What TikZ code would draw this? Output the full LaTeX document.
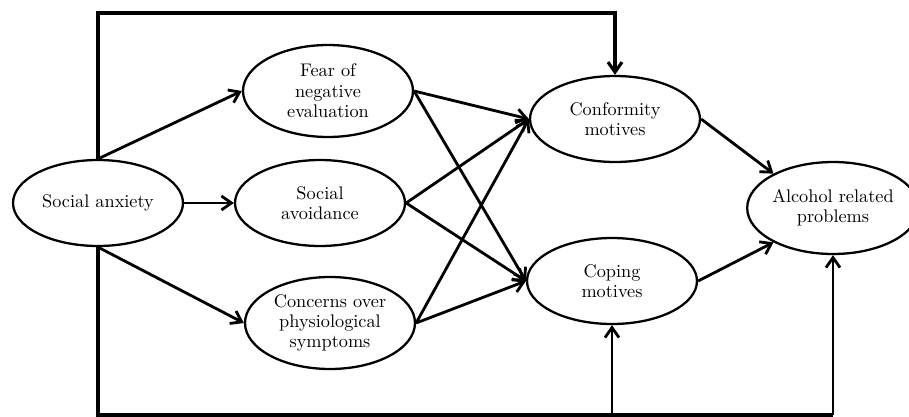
\documentclass[tikz,border=0pt]{standalone}
\usepackage{tikz}
\usetikzlibrary{arrows.meta,shapes.geometric}

\tikzset{
  latent/.style={draw,ellipse,line width=1.3pt,inner sep=0pt,align=center,
    minimum width=3.4cm,minimum height=1.72cm,font=\fontsize{10.4}{11.6}\selectfont},
  path/.style={line width=1.6pt,-{Straight Barb[length=2mm,width=2.8mm]}},
  bar/.style={line width=1.8pt}
}

\begin{document}
\begin{tikzpicture}[x=0.02cm,y=-0.02cm]
  \useasboundingbox (0,0) rectangle (909,416);

  % Predictor and mediators
  \node[latent] (sa) at (98,203){Social anxiety};
  \node[latent,minimum height=1.84cm] (fne) at (328,91){Fear of\\negative\\evaluation};
  \node[latent] (avoid) at (320,203){Social\\avoidance};
  \node[latent,minimum height=1.84cm] (conc) at (330,323){Concerns over\\physiological\\symptoms};

  % Motives and outcome
  \node[latent] (conf) at (615,119){Conformity\\motives};
  \node[latent] (cope) at (612,281){Coping\\motives};
  \node[latent,minimum height=1.84cm] (alc) at (833,208){Alcohol related\\problems};

  \coordinate (topline) at (0,13);
  \coordinate (botline) at (0,415);

  \draw[path] (sa.north) -- (fne.west);
  \draw[path] (sa.east) -- (avoid.west);
  \draw[path] (sa.south) -- (conc.west);

  \foreach \m in {fne,avoid,conc}{
    \draw[path] (\m.east) -- (conf.west);
    \draw[path] (\m.east) -- (cope.west);
  }

  \draw[path] (conf.east) -- (alc.150);
  \draw[path] (cope.east) -- (alc.210);

  % Direct paths
  \draw[path,line width=1.8pt] (sa.north) -- (sa.north |- topline) -| (conf.north);
  \draw[bar] (sa.south) -- (sa.south |- botline) -- (alc.south |- botline);
  \draw[path] (cope.south |- botline) -- (cope.south);
  \draw[path] (alc.south |- botline) -- (alc.south);
\end{tikzpicture}
\end{document}
